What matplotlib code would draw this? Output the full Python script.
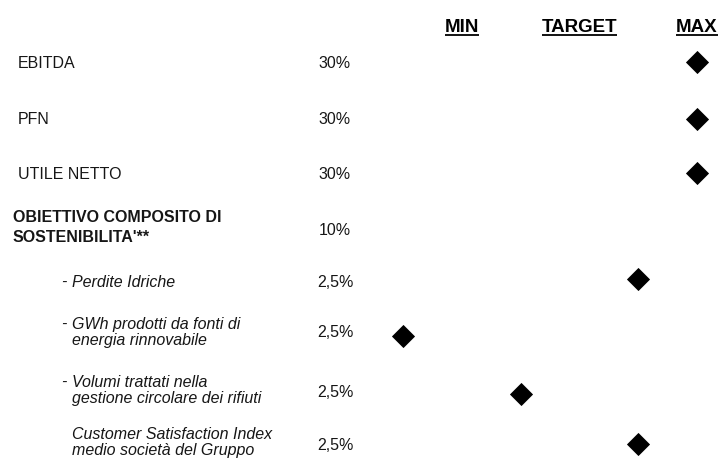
import matplotlib
matplotlib.use("Agg")
import matplotlib.pyplot as plt

# Scale anchors shown along the top
scale_labels = ["MIN", "TARGET", "MAX"]
scale_points = [0, 1, 2]

# Objectives, their weights and the level reached on the MIN-TARGET-MAX scale
objectives = [
    "EBITDA",
    "PFN",
    "UTILE NETTO",
    "OBIETTIVO COMPOSITO DI\nSOSTENIBILITA'**",
    "Perdite Idriche",
    "GWh prodotti da fonti di\nenergia rinnovabile",
    "Volumi trattati nella\ngestione circolare dei rifiuti",
    "Customer Satisfaction Index\nmedio società del Gruppo",
]
weights = ["30%", "30%", "30%", "10%", "2,5%", "2,5%", "2,5%", "2,5%"]
achieved = [2.0, 2.0, 2.0, None, 1.5, -0.5, 0.5, 1.5]
is_sub_item = [False, False, False, False, True, True, True, True]
has_dash = [False, False, False, False, True, True, True, False]

# Layout (pixel grid of a 728x463 canvas, y downwards)
W, H = 728, 463
row_center = [62, 118, 173, 226, 281, 331, 389, 441]
weight_center = [62, 118, 173, 229, 281, 331, 391, 444]
marker_y = [62, 119, 173, None, 279, 336, 394, 444]
main_x, group_x, sub_x, dash_x, weight_x = 18, 13, 72, 61, 335
FS = 11.5
px_per_pt = 100 / 72
cap_half = 0.716 * FS * px_per_pt / 2
ink = "#161616"

plt.rcParams["font.family"] = ["Liberation Sans", "DejaVu Sans"]

fig = plt.figure(figsize=(W / 100, H / 100), dpi=100)
fig.patch.set_facecolor("white")

# Text layer
ax = fig.add_axes([0, 0, 1, 1])
ax.set_xlim(0, W)
ax.set_ylim(H, 0)
ax.axis("off")

for name, w, sub, dash, yc, yw in zip(objectives, weights, is_sub_item,
                                      has_dash, row_center, weight_center):
    lines = name.split("\n")
    group = name.startswith("OBIETTIVO")
    step = 16 if sub else 20
    first = yc - step * (len(lines) - 1) / 2
    x = sub_x if sub else (group_x if group else main_x)
    for k, line in enumerate(lines):
        yb = first + k * step + cap_half
        ax.text(x, yb, line, fontsize=FS, color=ink,
                ha="left", va="baseline",
                style="italic" if sub else "normal",
                weight="bold" if group else "normal")
    if dash:
        ax.text(dash_x, first + cap_half, "-", fontsize=FS, color=ink,
                ha="left", va="baseline", style="italic")
    ax.text(weight_x, yw + cap_half, w, fontsize=FS, color=ink,
            ha="center", va="baseline")

# Marker layer: x axis in scale units (MIN=0, TARGET=1, MAX=2)
left_px = 345
mx = fig.add_axes([left_px / W, 0, (W - left_px) / W, 1])
unit_px = 117.5
x0 = -(462 - left_px) / unit_px
mx.set_xlim(x0, x0 + (W - left_px) / unit_px)
mx.set_ylim(H, 0)
mx.axis("off")

headers = []
for lab, pos in zip(scale_labels, scale_points):
    headers.append(mx.text(pos, 32, lab, fontsize=13.5, fontweight="bold",
                           color="black", ha="center", va="baseline"))

for val, y in zip(achieved, marker_y):
    if val is None:
        continue
    mx.plot([val], [y], marker="D", markersize=10.7, color="black",
            markeredgewidth=0.6, linestyle="none")

# Underline the scale headers
fig.canvas.draw()
renderer = fig.canvas.get_renderer()
inv = ax.transData.inverted()
for t in headers:
    bb = t.get_window_extent(renderer)
    (xa, _), (xb, _) = inv.transform([(bb.x0, bb.y0), (bb.x1, bb.y0)])
    ax.plot([xa, xb], [34.5, 34.5], color="black", lw=1.3,
            solid_capstyle="butt")

fig.savefig("out.png", dpi=100, facecolor="white")
